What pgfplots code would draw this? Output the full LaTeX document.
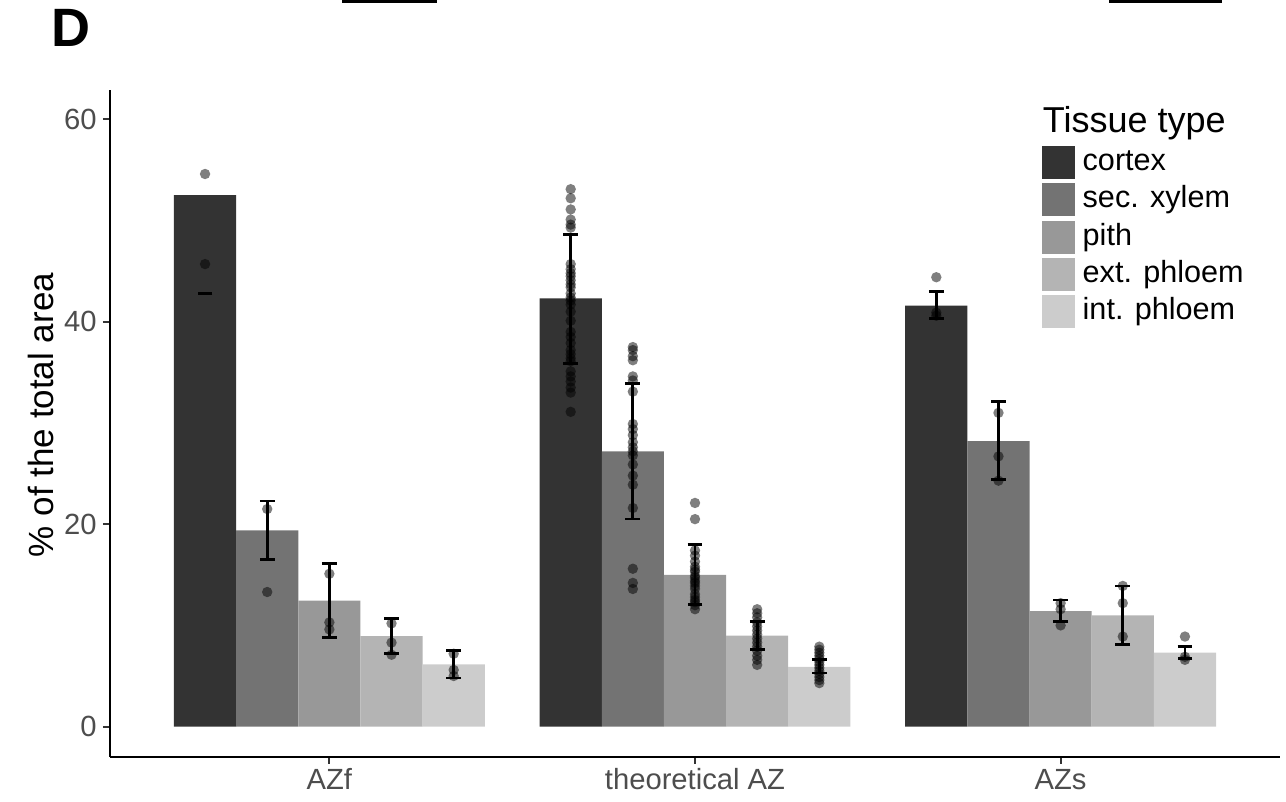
\documentclass[border=0pt]{standalone}
\usepackage{pgfplots}
\pgfplotsset{compat=1.18}
\usepackage{pgfplotstable}
\usepackage{fontspec}
\setmainfont{Liberation Sans}

\definecolor{cortex}{HTML}{333333}
\definecolor{secxylem}{HTML}{737373}
\definecolor{pith}{HTML}{989898}
\definecolor{extphloem}{HTML}{B4B4B4}
\definecolor{intphloem}{HTML}{CCCCCC}
\definecolor{ticktext}{HTML}{4D4D4D}

% group g: 1 = AZf, 2 = theoretical AZ, 3 = AZs
\pgfplotstableread{
g mean
1 52.5
2 42.3
3 41.6
}\cortexbar
\pgfplotstableread{
g mean
1 19.4
2 27.2
3 28.2
}\xylembar
\pgfplotstableread{
g mean
1 12.45
2 15.0
3 11.4
}\pithbar
\pgfplotstableread{
g mean
1 8.94
2 9.0
3 11.0
}\extbar
\pgfplotstableread{
g mean
1 6.15
2 5.9
3 7.3
}\intbar

% error bars; k = position of the tissue inside its group
\pgfplotstableread{
g k mean lo hi
2 -2 42.3 35.9 48.6
3 -2 41.6 40.3 43.0
1 -1 19.4 16.5 22.3
2 -1 27.2 20.5 33.9
3 -1 28.2 24.4 32.1
1 0 12.45 8.8 16.15
2 0 15.0 12.1 18.0
3 0 11.4 10.4 12.5
1 1 8.94 7.25 10.7
2 1 9.0 7.6 10.4
3 1 11.0 8.1 13.9
1 2 6.15 4.8 7.55
2 2 5.9 5.3 6.6
3 2 7.3 6.7 7.95
}\errs

% individual measurements
\pgfplotstableread{
g v
1 54.6
1 45.7
2 53.1
2 52.2
2 51.1
2 50.1
2 49.6
2 49.3
2 45.7
2 45.2
2 44.8
2 44.5
2 44.1
2 43.7
2 43.4
2 42.8
2 42.4
2 42.1
2 41.7
2 41.0
2 40.1
2 39.0
2 38.5
2 37.9
2 37.2
2 36.8
2 36.4
2 36.1
2 35.1
2 34.6
2 34.1
2 33.5
2 33.0
2 31.1
3 44.4
3 40.9
3 40.6
}\cortexdots
\pgfplotstableread{
g v
1 21.5
1 13.3
2 37.5
2 37.2
2 36.6
2 36.2
2 34.6
2 34.2
2 33.1
2 29.9
2 29.4
2 28.8
2 28.1
2 27.6
2 27.2
2 26.8
2 25.9
2 24.8
2 23.9
2 21.6
2 15.6
2 14.2
2 13.6
3 31.0
3 26.7
3 24.3
}\xylemdots
\pgfplotstableread{
g v
1 15.1
1 10.3
1 9.6
2 22.1
2 20.5
2 17.4
2 16.9
2 16.3
2 15.8
2 15.5
2 15.3
2 14.9
2 14.7
2 14.4
2 14.2
2 13.9
2 13.6
2 13.1
2 12.8
2 12.5
2 12.3
2 12.0
2 11.6
3 12.2
3 11.6
3 10.0
}\pithdots
\pgfplotstableread{
g v
1 10.2
1 8.3
1 7.1
2 11.6
2 11.2
2 10.8
2 10.3
2 9.9
2 9.5
2 9.1
2 8.7
2 8.3
2 7.9
2 7.5
2 7.0
2 6.6
2 6.1
3 13.9
3 12.2
3 8.9
}\extdots
\pgfplotstableread{
g v
1 7.2
1 5.6
1 5.0
2 7.9
2 7.6
2 7.3
2 7.0
2 6.7
2 6.4
2 6.1
2 5.8
2 5.5
2 5.2
2 4.9
2 4.6
2 4.3
3 8.9
3 6.9
3 6.6
}\intdots

\pgfplotsset{
  dots/.style={forget plot, only marks, mark=*, mark size=2.6pt, black,
    mark options={draw opacity=0, fill=black, fill opacity=0.5}},
  bars/.style={ybar, bar width=0.17, bar shift=0pt, draw=none, fill=#1},
}

\begin{document}
\begin{tikzpicture}
\path[use as bounding box] (0,0) rectangle (643pt,401pt);
\fill[black] (171pt,399.6pt) rectangle (218.5pt,401pt);
\fill[black] (554.5pt,399.6pt) rectangle (611pt,401pt);
\node[anchor=base west, inner sep=0pt, font=\bfseries\fontsize{27}{30}\selectfont] at (25.5pt,377.6pt) {D};
\begin{axis}[
  at={(55pt,22.5pt)}, anchor=south west,
  width=585pt, height=333.5pt, scale only axis,
  xmin=0.4, xmax=3.6, ymin=-3.0, ymax=62.9,
  axis x line*=bottom, axis y line*=left,
  axis line style={line width=1.1pt, black},
  xtick={1,2,3}, xticklabels={AZf, theoretical AZ, AZs},
  ytick={0,20,40,60},
  tick align=outside, major tick length=3.5pt,
  tick style={line width=1pt, black!80},
  tick label style={font=\fontsize{14.6}{16}\selectfont, text=ticktext, inner sep=0pt},
  xticklabel style={anchor=base, yshift=-13pt},
  yticklabel style={anchor=east, xshift=-3pt},
  /pgf/number format/assume math mode=true,
  ylabel={\% of the total area},
  ylabel style={font=\fontsize{17.5}{20}\selectfont, at={(axis description cs:-0.0487,0.5127)}, anchor=base, inner sep=0pt},
  legend style={at={(axis description cs:0.797,0.916)}, anchor=north west,
    draw=none, fill=none, inner sep=0pt, outer sep=0pt,
    row sep=2.15pt, column sep=3.6pt,
    font=\fontsize{15.3}{18}\selectfont,
    cells={anchor=base west}, nodes={inner sep=0pt}},
  legend image code/.code={\path[#1, draw=none] (0pt,-4.25pt) rectangle (16.5pt,12.25pt);},
]
\addplot[bars=cortex] table[x expr=\thisrow{g}-0.34, y=mean] {\cortexbar};
\addlegendentry{cortex}
\addplot[bars=secxylem] table[x expr=\thisrow{g}-0.17, y=mean] {\xylembar};
\addlegendentry{sec. xylem}
\addplot[bars=pith] table[x expr=\thisrow{g}, y=mean] {\pithbar};
\addlegendentry{pith}
\addplot[bars=extphloem] table[x expr=\thisrow{g}+0.17, y=mean] {\extbar};
\addlegendentry{ext. phloem}
\addplot[bars=intphloem] table[x expr=\thisrow{g}+0.34, y=mean] {\intbar};
\addlegendentry{int. phloem}

\addplot[dots] table[x expr=\thisrow{g}-0.34, y=v] {\cortexdots};
\addplot[dots] table[x expr=\thisrow{g}-0.17, y=v] {\xylemdots};
\addplot[dots] table[x expr=\thisrow{g}, y=v] {\pithdots};
\addplot[dots] table[x expr=\thisrow{g}+0.17, y=v] {\extdots};
\addplot[dots] table[x expr=\thisrow{g}+0.34, y=v] {\intdots};

\addplot[forget plot, draw=none, mark=none,
  error bars/.cd, y dir=both, y explicit,
  error bar style={draw=black, line width=1.35pt},
  error mark options={rotate=90, draw=black, line width=1.35pt, mark size=3.7pt}]
  table[x expr=\thisrow{g}+0.17*\thisrow{k}, y=mean,
        y error plus expr=\thisrow{hi}-\thisrow{mean},
        y error minus expr=\thisrow{mean}-\thisrow{lo}] {\errs};
% lone lower cap of the AZf cortex bar
\addplot[forget plot, only marks, mark=-, mark size=3.7pt,
  mark options={black, line width=1.35pt}] coordinates {(0.66,42.8)};

\node[anchor=base west, inner sep=0pt, font=\fontsize{18}{21}\selectfont]
  at (axis description cs:0.797,0.937) {Tissue type};
\end{axis}
\end{tikzpicture}
\end{document}
